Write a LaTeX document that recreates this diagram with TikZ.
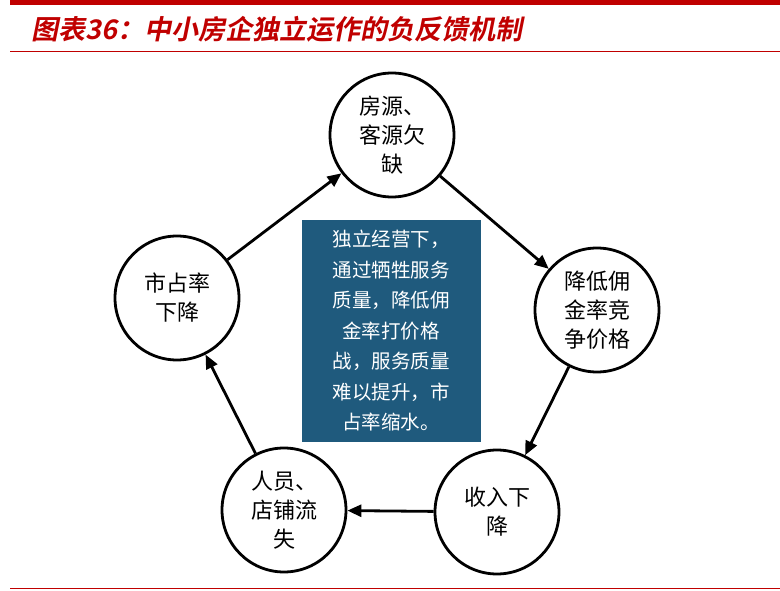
\documentclass[tikz,border=0pt]{standalone}
\usepackage{fontspec}
\newfontfamily\cjk{Noto Sans CJK SC}
\newfontfamily\cjkt[FakeSlant=0.2]{Noto Sans CJK SC Bold}
\usetikzlibrary{arrows.meta}
\definecolor{tred}{HTML}{C00000}
\definecolor{bx}{HTML}{1F5A7D}
\begin{document}
\begin{tikzpicture}[x=1pt,y=-1pt,
  circ/.style={circle,draw,line width=2.8pt,minimum size=124pt,inner sep=0pt,align=center,font=\cjk\fontsize{22}{29}\selectfont},
  arr/.style={line width=2.8pt,-{Triangle[length=14pt,width=12pt]}}]
\useasboundingbox (0,0) rectangle (780,591);
\fill[tred] (10,0) rectangle (780,5);
\draw[tred,line width=1pt] (10,52) -- (780,52);
\draw[tred,line width=1pt] (10,588) -- (780,588);
\node[anchor=west,text=tred,font=\cjkt\fontsize{27}{30}\selectfont] (title) at (28,29) {图表36：中小房企独立运作的负反馈机制};
\node[circ] (a) at (392,135) {房源、\\客源欠\\缺};
\node[circ] (b) at (597,310) {降低佣\\金率竞\\争价格};
\node[circ] (c) at (497,512) {收入下\\降};
\node[circ] (d) at (284,510) {人员、\\店铺流\\失};
\node[circ] (e) at (177,298) {市占率\\下降};
\node[fill=bx,text=white,minimum width=179pt,minimum height=222pt,inner sep=0pt,align=center,font=\cjk\fontsize{19.5}{30.5}\selectfont] (m) at (391,331) {独立经营下，\\通过牺牲服务\\质量，降低佣\\金率打价格\\战，服务质量\\难以提升，市\\占率缩水。};
\draw[arr] (a) -- (b);
\draw[arr] (b) -- (c);
\draw[arr] (c) -- (d);
\draw[arr] (d) -- (e);
\draw[arr] (e) -- (a);
\end{tikzpicture}
\end{document}
